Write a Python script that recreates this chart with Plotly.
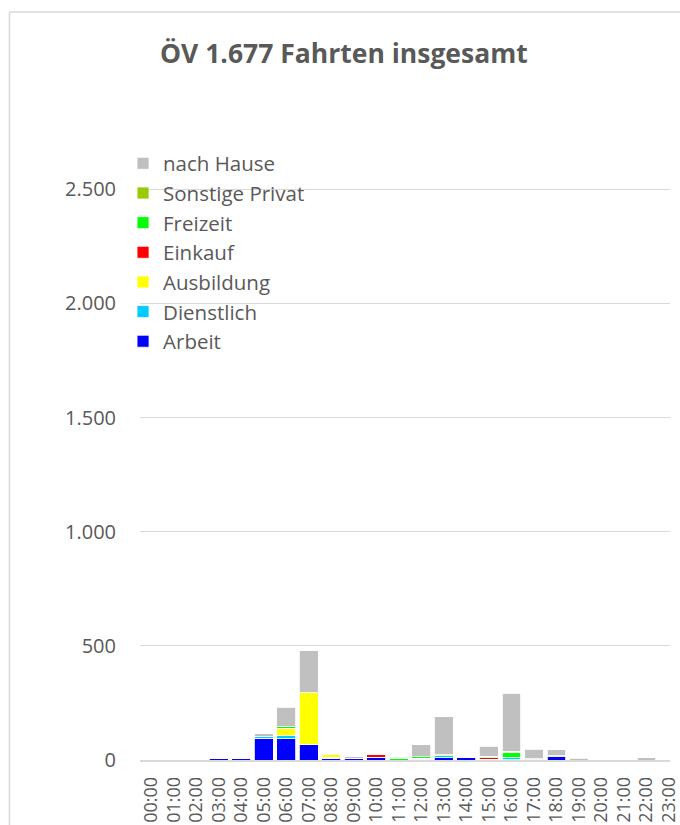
import plotly.graph_objects as go

hours = ["00:00", "01:00", "02:00", "03:00", "04:00", "05:00", "06:00", "07:00",
         "08:00", "09:00", "10:00", "11:00", "12:00", "13:00", "14:00", "15:00",
         "16:00", "17:00", "18:00", "19:00", "20:00", "21:00", "22:00", "23:00"]

arbeit =     [0, 0, 0, 5, 5, 95, 93, 66, 8, 5, 12, 0, 4, 10, 10, 4, 2, 4, 15, 0, 0, 0, 0, 0]
dienstlich = [0, 0, 0, 0, 0, 10, 14, 0, 2, 2, 1, 0, 3, 9, 2, 0, 8, 2, 0, 0, 0, 0, 0, 0]
ausbildung = [0, 0, 0, 0, 0, 0, 31, 229, 12, 0, 0, 0, 0, 0, 0, 0, 0, 0, 0, 0, 0, 0, 0, 0]
einkauf =    [0, 0, 0, 0, 0, 0, 0, 0, 0, 0, 9, 0, 0, 0, 0, 6, 0, 0, 0, 0, 0, 0, 0, 0]
freizeit =   [0, 0, 0, 0, 0, 0, 9, 0, 0, 0, 0, 5, 7, 0, 0, 6, 25, 0, 0, 0, 0, 0, 0, 0]
sonstige =   [0, 0, 0, 0, 0, 0, 0, 0, 0, 0, 0, 0, 0, 5, 5, 0, 4, 0, 4, 0, 0, 0, 0, 0]
nach_hause = [0, 0, 0, 0, 0, 9, 85, 183, 3, 8, 0, 6, 53, 166, 2, 44, 254, 41, 25, 7, 0, 0, 10, 0]

series = [
    ("Arbeit", arbeit, "#0000FF"),
    ("Dienstlich", dienstlich, "#00CCFF"),
    ("Ausbildung", ausbildung, "#FFFF00"),
    ("Einkauf", einkauf, "#FF0000"),
    ("Freizeit", freizeit, "#00FF00"),
    ("Sonstige Privat", sonstige, "#99CC00"),
    ("nach Hause", nach_hause, "#C0C0C0"),
]

y_ticks = [0, 500, 1000, 1500, 2000, 2500]
y_tick_text = ["0", "500", "1.000", "1.500", "2.000", "2.500"]

TXT = "#595959"
GRID = "#D9D9D9"

fig = go.Figure()
for i, (name, vals, col) in enumerate(series):
    fig.add_trace(go.Bar(
        x=hours, y=vals, name=name, legendrank=1000 - i,
        marker=dict(color=col, line=dict(color="white", width=0.8)),
    ))

fig.update_layout(
    width=680, height=825,
    margin=dict(l=140, r=0, t=75, b=65),
    paper_bgcolor="white", plot_bgcolor="white",
    barmode="stack", bargap=0.17,
    font=dict(family="Open Sans", color=TXT, size=19),
    showlegend=True,
    legend=dict(
        x=-0.032, xanchor="left", y=0.90, yanchor="top",
        traceorder="normal",
        font=dict(family="Open Sans", size=20.5, color=TXT),
        bgcolor="rgba(0,0,0,0)", itemwidth=30,
    ),
    xaxis=dict(
        type="category", range=[-0.5, 23.05],
        tickmode="array", tickvals=hours, ticktext=hours,
        tickangle=-90, ticks="", ticklabelstandoff=8,
        tickfont=dict(family="Open Sans", size=18, color=TXT),
        showline=True, linecolor=GRID, linewidth=1.5,
        showgrid=False, zeroline=False, fixedrange=True,
    ),
    yaxis=dict(
        range=[0, 3000], tickvals=y_ticks, ticktext=y_tick_text,
        ticks="", ticklabelstandoff=23,
        tickfont=dict(family="Open Sans", size=20, color=TXT),
        showgrid=True, gridcolor=GRID, gridwidth=1,
        zeroline=False, showline=False, fixedrange=True,
    ),
    annotations=[dict(
        text="<b>ÖV 1.677 Fahrten insgesamt</b>",
        xref="paper", yref="paper",
        x=(348 - 140) / 540, y=(759.5 - 52) / 685,
        xanchor="center", yanchor="middle", showarrow=False,
        font=dict(family="Open Sans", size=26.5, color=TXT),
    )],
    shapes=[
        dict(type="line", xref="paper", yref="paper",
             x0=(7 - 140) / 540, x1=1.2,
             y0=(759.5 - 11.5) / 685, y1=(759.5 - 11.5) / 685,
             line=dict(color=GRID, width=1.5), layer="below"),
        dict(type="line", xref="paper", yref="paper",
             x0=(7 - 140) / 540, x1=(7 - 140) / 540,
             y0=-0.3, y1=(759.5 - 11.5) / 685,
             line=dict(color=GRID, width=1.5), layer="below"),
    ],
)

fig.write_html(
    "out.html",
    config={"displayModeBar": False},
    post_script=(
        "document.documentElement.style.overflow='hidden';"
        "document.body.style.margin='0';"
        "document.body.style.overflow='hidden';"
    ),
)
